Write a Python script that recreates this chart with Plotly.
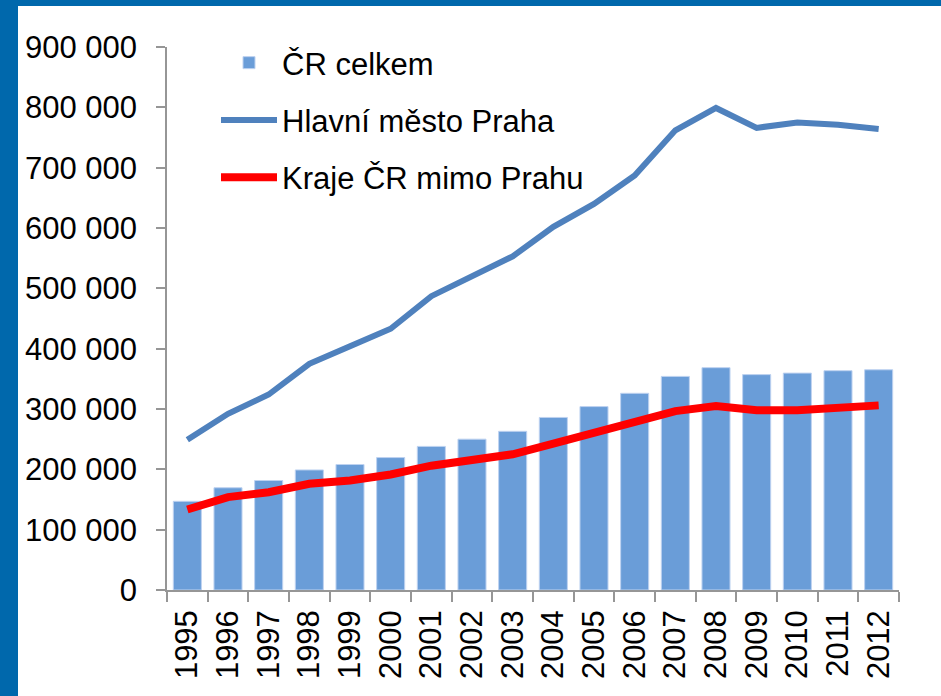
import plotly.graph_objects as go

years = [str(y) for y in range(1995, 2013)]
cr_celkem = [147000, 169500, 181500, 199000, 208000, 219500, 238000, 250000, 263000,
             286000, 304000, 326000, 354000, 368500, 357000, 359500, 363500, 365000]
praha = [249000, 292000, 324000, 375000, 404000, 433000, 487000, 520000, 553000,
         602000, 640000, 687000, 762000, 799000, 766000, 775000, 771000, 764000]
kraje = [133500, 154000, 162000, 176000, 181500, 191500, 206000, 216000, 225000,
         242500, 260000, 278000, 296500, 305000, 298000, 298000, 303000, 306000]
y_ticks = [0, 100000, 200000, 300000, 400000, 500000, 600000, 700000, 800000, 900000]

W, H = 941, 696
ML, MR, MT, MB = 167, 42, 47, 106
PW, PH = W - ML - MR, H - MT - MB

fig = go.Figure()
fig.add_trace(go.Bar(x=years, y=cr_celkem, name="ČR celkem",
                     marker=dict(color="rgb(106,157,216)",
                                 line=dict(color="rgb(190,210,240)", width=1)),
                     legendgroup="a"))
fig.add_trace(go.Scatter(x=years, y=praha, name="Hlavní město Praha", mode="lines",
                         line=dict(color="rgb(79,129,189)", width=6),
                         legendgroup="b"))
fig.add_trace(go.Scatter(x=years, y=kraje, name="Kraje ČR mimo Prahu", mode="lines",
                         line=dict(color="rgb(255,0,0)", width=8),
                         legendgroup="c"))

def px(xp):
    return (xp - ML) / PW

def py(yp):
    return (H - MB - yp) / PH

shapes = [
    dict(type="rect", xref="paper", yref="paper", x0=px(0), x1=px(18), y0=py(H), y1=py(0),
         fillcolor="rgb(0,104,172)", line=dict(width=0), layer="above"),
    dict(type="rect", xref="paper", yref="paper", x0=px(0), x1=px(W), y0=py(6), y1=py(0),
         fillcolor="rgb(0,104,172)", line=dict(width=0), layer="above"),
]

fig.update_layout(
    width=W, height=H,
    margin=dict(l=ML, r=MR, t=MT, b=MB, pad=0),
    paper_bgcolor="white", plot_bgcolor="white",
    font=dict(family="Liberation Sans, Arial, sans-serif", size=31, color="black"),
    separators=", ",
    bargap=0.31,
    showlegend=True,
    legend=dict(x=px(216), y=py(36), xanchor="left", yanchor="top",
                font=dict(size=31), bgcolor="rgba(0,0,0,0)",
                itemwidth=56, tracegroupgap=14, traceorder="grouped"),
    shapes=shapes,
    xaxis=dict(type="category", tickangle=-90, showgrid=False,
               showline=True, linecolor="rgb(150,150,150)", linewidth=1.5,
               ticks="outside", ticklen=10, tickcolor="rgb(150,150,150)", tickwidth=1.5,
               tickson="boundaries", ticklabelstandoff=6),
    yaxis=dict(range=[0, 900000], tickvals=y_ticks, tickformat=",d", showgrid=False,
               zeroline=False,
               showline=True, linecolor="rgb(150,150,150)", linewidth=1.5,
               ticks="outside", ticklen=9, tickcolor="rgb(150,150,150)", tickwidth=1.5,
               ticklabelstandoff=13),
)

fig.write_html("out.html", config={"displayModeBar": False},
               post_script="document.body.style.margin='0';document.body.style.padding='0';")
